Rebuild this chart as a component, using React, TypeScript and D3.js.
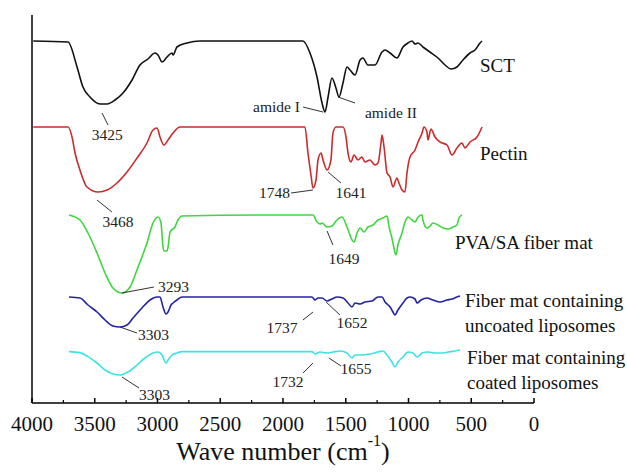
import * as d3 from "d3";

// FTIR spectra: [wavenumber (cm-1), transmittance (a.u., offset per trace)]
const sctData: [number, number][] = [
  [3990, 181], [3713, 180.5], [3641, 168], [3594, 158], [3538, 153], [3458, 149.5],
  [3402, 149.5], [3338, 151.5], [3275, 155], [3203, 161.5], [3140, 169], [3076, 172],
  [3020, 175], [2996, 174], [2964, 170.5], [2924, 173], [2884, 175], [2876, 174],
  [2845, 178], [2765, 180], [2661, 181], [2200, 181], [1865, 181], [1841, 181],
  [1785, 175], [1729, 163], [1689, 150], [1665, 145.5], [1641, 153], [1610, 162.5],
  [1578, 157.5], [1554, 153], [1522, 160], [1490, 168], [1466, 166.5], [1426, 164],
  [1386, 171.5], [1363, 172.5], [1323, 169], [1267, 169], [1211, 175.5], [1187, 176.5],
  [1147, 175], [1092, 172.5], [1044, 178], [1004, 180], [972, 181], [948, 179.5],
  [924, 180], [885, 178], [829, 175.5], [765, 172.5], [709, 169], [661, 167],
  [614, 168], [566, 171.5], [510, 175], [470, 176.5], [430, 180], [414, 181],
];

const pectinData: [number, number][] = [
  [3990, 138], [3713, 138], [3681, 133], [3657, 125], [3618, 116.5], [3562, 108],
  [3474, 105.5], [3402, 106.5], [3323, 110], [3243, 115.5], [3163, 122.5], [3084, 130],
  [3036, 136.5], [3004, 137.5], [2980, 133], [2948, 129], [2916, 131.5], [2876, 135],
  [2821, 138], [1888, 138], [1825, 138], [1801, 125], [1777, 114], [1761, 107.5],
  [1737, 111.5], [1721, 121.5], [1697, 125], [1681, 121.5], [1649, 116.5], [1618, 121.5],
  [1602, 135], [1578, 138], [1522, 138], [1498, 133], [1482, 125], [1458, 120.5],
  [1434, 124], [1402, 121.5], [1371, 123], [1347, 120.5], [1307, 121.5], [1267, 119],
  [1243, 120], [1219, 130], [1211, 134], [1195, 128], [1171, 115], [1147, 113],
  [1124, 108], [1092, 112.5], [1076, 110], [1052, 106.5], [1028, 105.5], [1012, 115],
  [988, 123], [948, 126.5], [924, 130.5], [892, 135], [877, 138], [853, 135.5],
  [845, 131.5], [821, 137], [789, 133], [749, 130.5], [693, 129], [653, 124],
  [614, 127.5], [574, 130], [550, 127.5], [510, 130.5], [454, 133], [414, 138],
];

const pvaSaData: [number, number][] = [
  [3705, 94], [3618, 91.5], [3554, 85], [3482, 75], [3418, 65], [3355, 57.5],
  [3283, 55], [3219, 58], [3155, 68], [3084, 80], [3036, 90], [2996, 93],
  [2972, 90], [2956, 78], [2948, 76], [2924, 76], [2916, 78], [2900, 85.5],
  [2861, 88], [2837, 91.5], [2805, 93.5], [2200, 94], [1761, 94], [1729, 90.5],
  [1705, 89.5], [1689, 90], [1649, 88], [1610, 88.5], [1570, 91.5], [1530, 93],
  [1490, 88], [1450, 81.5], [1434, 80.5], [1410, 85], [1386, 87.5], [1355, 85.5],
  [1323, 88], [1283, 89], [1243, 91.5], [1203, 92.5], [1171, 93.5], [1155, 88],
  [1132, 82.5], [1116, 77.5], [1100, 74], [1084, 79], [1052, 85], [1028, 90.5],
  [1004, 93], [972, 91.5], [948, 90.5], [924, 93], [892, 94], [885, 91.5],
  [853, 87.5], [829, 88.5], [805, 90], [765, 89], [725, 87.5], [685, 87],
  [645, 88], [614, 89], [598, 92.5], [574, 94],
];

const uncoatedData: [number, number][] = [
  [3705, 53], [3618, 52.5], [3554, 49], [3482, 45.5], [3418, 41.5], [3355, 38.5],
  [3299, 38], [3243, 39], [3195, 42.5], [3124, 47.5], [3060, 51.5], [3004, 53],
  [2980, 53], [2956, 48], [2932, 44.5], [2916, 45.5], [2892, 49], [2876, 50],
  [2845, 51.5], [2805, 53], [2200, 53], [1769, 53], [1745, 51.5], [1721, 52.5],
  [1689, 52.5], [1649, 51], [1610, 52], [1570, 53], [1522, 52.5], [1482, 50],
  [1450, 48], [1426, 50], [1386, 49.5], [1347, 50.5], [1291, 51], [1243, 53],
  [1211, 53], [1187, 50.5], [1147, 48], [1124, 45.5], [1108, 44], [1084, 46.5],
  [1044, 50], [1012, 52.5], [988, 53], [948, 52], [932, 50], [900, 51.5],
  [853, 52.5], [805, 51.5], [749, 50.5], [693, 51.5], [653, 52], [614, 53], [590, 53.5],
];

const coatedData: [number, number][] = [
  [3705, 25.7], [3618, 25.2], [3554, 23.2], [3482, 20], [3418, 16.5], [3355, 14.5],
  [3299, 14], [3235, 15.5], [3163, 19], [3100, 22.5], [3036, 25], [2996, 25.5],
  [2964, 24], [2932, 20], [2916, 21.5], [2884, 24], [2845, 25], [2805, 25.7],
  [2200, 25.7], [1769, 25.7], [1745, 24.5], [1705, 25.5], [1649, 25], [1602, 25.5],
  [1546, 26], [1490, 25], [1450, 22.5], [1426, 24], [1371, 24], [1307, 24.5],
  [1243, 25.5], [1203, 26], [1171, 24], [1132, 20.5], [1108, 18], [1084, 20.5],
  [1044, 23], [1004, 25.5], [964, 25], [932, 23], [892, 25], [845, 25.5],
  [789, 25], [733, 25], [685, 25.5], [630, 26], [590, 26.5],
];

// series legends placed next to the trace ends (wavenumber, value, lines)
const seriesLabels: { w: number; v: number; lines: string[] }[] = [
  { w: 430, v: 169, lines: ["SCT"] },
  { w: 430, v: 125, lines: ["Pectin"] },
  { w: 630, v: 80.5, lines: ["PVA/SA fiber mat"] },
  { w: 550, v: 51.5, lines: ["Fiber mat containing", "uncoated liposomes"] },
  { w: 534, v: 23, lines: ["Fiber mat containing", "coated liposomes"] },
];

// peak annotations: leader line from -> to, label at text (data units)
const peakNotes: {
  label: string;
  from: [number, number];
  to: [number, number];
  text: [number, number];
  anchor: "start" | "middle" | "end";
}[] = [
  { label: "3425", from: [3442, 145], to: [3394, 139], text: [3400, 134], anchor: "middle" },
  { label: "amide I", from: [1841, 148], to: [1681, 145.5], text: [1865, 148], anchor: "end" },
  { label: "amide II", from: [1562, 153], to: [1426, 150], text: [1347, 145], anchor: "start" },
  { label: "3468", from: [3482, 101.5], to: [3363, 95.5], text: [3315, 90.5], anchor: "middle" },
  { label: "1748", from: [1936, 105], to: [1761, 106.5], text: [1944, 105], anchor: "end" },
  { label: "1641", from: [1641, 115.5], to: [1538, 110], text: [1458, 105], anchor: "middle" },
  { label: "3293", from: [3283, 55], to: [3028, 58], text: [2996, 58], anchor: "start" },
  { label: "1649", from: [1649, 86], to: [1602, 79], text: [1514, 72], anchor: "middle" },
  { label: "3303", from: [3299, 38], to: [3163, 35], text: [3155, 34], anchor: "start" },
  { label: "1737", from: [1841, 41.5], to: [1761, 45.5], text: [2008, 37.5], anchor: "middle" },
  { label: "1652", from: [1657, 50.5], to: [1546, 44], text: [1450, 40], anchor: "middle" },
  { label: "3303", from: [3283, 13], to: [3147, 7.5], text: [3147, 4], anchor: "start" },
  { label: "1732", from: [1841, 15], to: [1761, 20], text: [1960, 10.5], anchor: "middle" },
  { label: "1655", from: [1634, 22.5], to: [1538, 18.5], text: [1418, 17], anchor: "middle" },
];

const series = [
  { name: "SCT", data: sctData, color: "#111111" },
  { name: "Pectin", data: pectinData, color: "#cc2b2b" },
  { name: "PVA/SA", data: pvaSaData, color: "#3fd63f" },
  { name: "Uncoated", data: uncoatedData, color: "#2222a8" },
  { name: "Coated", data: coatedData, color: "#3de3e3" },
];

const WIDTH = 627;
const HEIGHT = 474;
const FONT = '"Liberation Serif", serif';

export default function App() {
  const x = d3.scaleLinear().domain([4000, 0]).range([32, 534]);
  const y = d3.scaleLinear().domain([0, 194]).range([403, 15]);

  const line = d3
    .line<[number, number]>()
    .x((d) => x(d[0]))
    .y((d) => y(d[1]))
    .curve(d3.curveMonotoneX);

  const majorTicks = x.ticks(8);
  const minorTicks = d3.range(3750, 0, -500);

  return (
    <svg
      width={WIDTH}
      height={HEIGHT}
      style={{ position: "absolute", left: 0, top: 0, background: "#fff", fontFamily: FONT }}
    >
      {/* traces */}
      {series.map((s) => (
        <path
          key={s.name}
          d={line(s.data) || ""}
          fill="none"
          stroke={s.color}
          strokeWidth={1.6}
          strokeLinejoin="round"
        />
      ))}

      {/* peak annotations */}
      {peakNotes.map((n, i) => (
        <g key={i}>
          <line
            x1={x(n.from[0])}
            y1={y(n.from[1])}
            x2={x(n.to[0])}
            y2={y(n.to[1])}
            stroke="#333"
            strokeWidth={1}
          />
          <text
            x={x(n.text[0])}
            y={y(n.text[1])}
            dy="0.35em"
            textAnchor={n.anchor}
            fontSize={15.5}
            fill="#222"
            style={{ fontFamily: FONT }}
          >
            {n.label}
          </text>
        </g>
      ))}

      {/* series labels */}
      {seriesLabels.map((l, i) => (
        <text key={i} x={x(l.w)} y={y(l.v)} fontSize={19} fill="#111" style={{ fontFamily: FONT }}>
          {l.lines.map((t, j) => (
            <tspan key={j} x={x(l.w)} dy={j === 0 ? "0.35em" : 25}>
              {t}
            </tspan>
          ))}
        </text>
      ))}

      {/* axes */}
      <line x1={x(4000)} y1={y(0)} x2={x(4000)} y2={15} stroke="#000" strokeWidth={1.5} />
      <line x1={x(4000)} y1={y(0)} x2={x(0)} y2={y(0)} stroke="#000" strokeWidth={1.5} />
      {majorTicks.map((t) => (
        <g key={t}>
          <line x1={x(t)} x2={x(t)} y1={y(0)} y2={y(0) - 5} stroke="#000" strokeWidth={1.5} />
          <text
            x={x(t)}
            y={y(0) + 28}
            textAnchor="middle"
            fontSize={21}
            fill="#111"
            style={{ fontFamily: FONT }}
          >
            {t}
          </text>
        </g>
      ))}
      {minorTicks.map((t) => (
        <line key={t} x1={x(t)} x2={x(t)} y1={y(0)} y2={y(0) - 3} stroke="#000" strokeWidth={1.2} />
      ))}
      <text
        x={(x(4000) + x(0)) / 2}
        y={460}
        textAnchor="middle"
        fontSize={26}
        fill="#111"
        style={{ fontFamily: FONT }}
      >
        Wave number (cm
        <tspan fontSize={16} dy={-14}>-1</tspan>
        <tspan dy={14}>)</tspan>
      </text>
    </svg>
  );
}
